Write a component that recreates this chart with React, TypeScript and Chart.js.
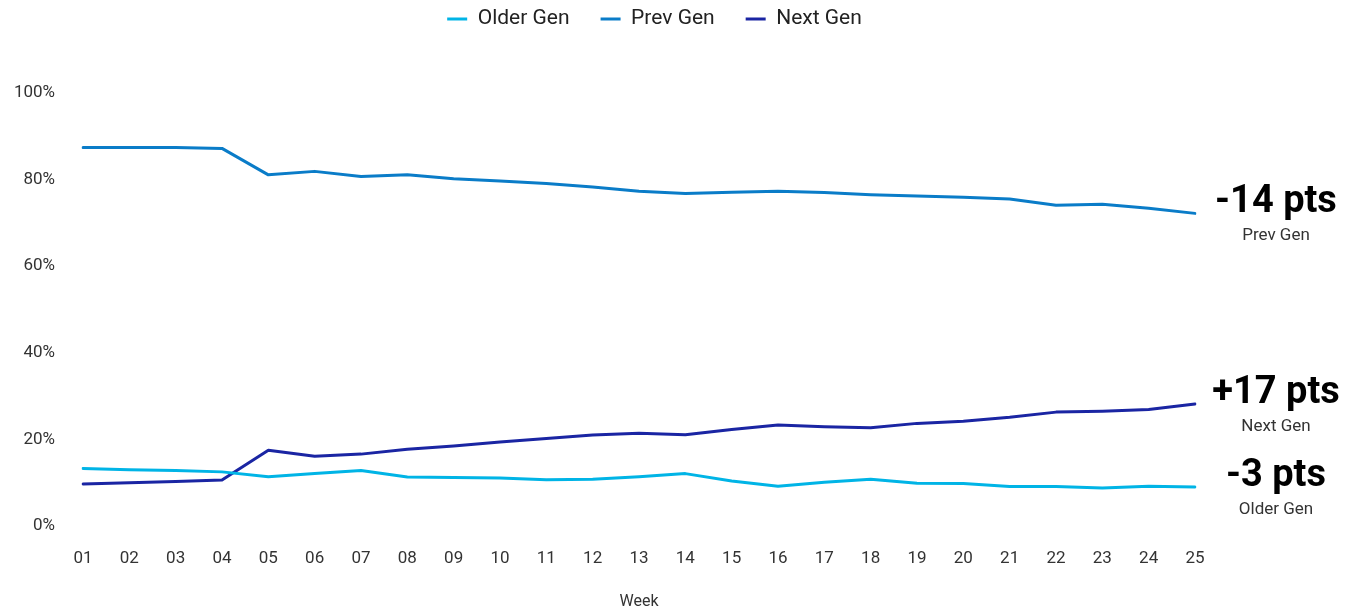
import React, { useEffect, useRef } from "react";
import { Chart, registerables } from "chart.js";

Chart.register(...registerables);

const weeks = ["01","02","03","04","05","06","07","08","09","10","11","12","13","14","15","16","17","18","19","20","21","22","23","24","25"];
const olderGen = [13.3,13.0,12.8,12.5,11.4,12.1,12.8,11.3,11.2,11.1,10.7,10.8,11.4,12.1,10.4,9.2,10.1,10.8,9.9,9.8,9.1,9.1,8.8,9.2,9.0];
const prevGen = [87.4,87.4,87.4,87.2,81.1,81.9,80.7,81.1,80.2,79.7,79.1,78.3,77.3,76.8,77.1,77.3,77.0,76.5,76.2,75.9,75.5,74.1,74.3,73.4,72.2];
const nextGen = [9.7,10.0,10.3,10.6,17.5,16.1,16.6,17.7,18.5,19.4,20.2,21.0,21.4,21.1,22.3,23.3,22.9,22.7,23.7,24.2,25.1,26.3,26.5,26.9,28.2];
const seriesNames = ["Older Gen", "Prev Gen", "Next Gen"];
const seriesColors = ["#00B4E6", "#0A7CC8", "#1A25A3"];
const changeLabels = ["-3 pts", "-14 pts", "+17 pts"];
const yTickValues = [0, 20, 40, 60, 80, 100];
const xAxisTitle = "Week";

const FONT = "Roboto";

const endLabelsPlugin = {
  id: "endLabels",
  afterDatasetsDraw(chart: any) {
    const { ctx, chartArea } = chart;
    chart.data.datasets.forEach((_ds: any, i: number) => {
      const meta = chart.getDatasetMeta(i);
      const pt = meta.data[meta.data.length - 1];
      if (!pt) return;
      const x = chartArea.right + 81;
      ctx.save();
      ctx.textAlign = "center";
      ctx.textBaseline = "alphabetic";
      ctx.fillStyle = "#000";
      ctx.font = `bold 38px ${FONT}`;
      ctx.fillText(changeLabels[i], x, pt.y - 1);
      ctx.fillStyle = "#333";
      ctx.font = `17px ${FONT}`;
      ctx.fillText(seriesNames[i], x, pt.y + 27);
      ctx.restore();
    });
  },
};

const legendHeightPlugin = {
  id: "legendHeight",
  afterInit(chart: any) {
    const legend = chart.legend;
    if (!legend) return;
    const origFit = legend.fit;
    legend.fit = function () {
      origFit.call(this);
      this.height = 115.5;
    };
  },
};

export default function App() {
  const canvasRef = useRef<HTMLCanvasElement | null>(null);

  useEffect(() => {
    document.documentElement.style.overflow = "hidden";
    const canvas = canvasRef.current;
    if (!canvas) return;
    const seriesValues = [olderGen, prevGen, nextGen];
    const chart = new Chart(canvas, {
      type: "line",
      data: {
        labels: weeks,
        datasets: seriesValues.map((vals, i) => ({
          label: seriesNames[i],
          data: vals,
          borderColor: seriesColors[i],
          backgroundColor: seriesColors[i],
          borderWidth: 3,
          borderCapStyle: "round",
          borderJoinStyle: "round",
          pointRadius: 0,
          pointHoverRadius: 0,
          tension: 0,
          fill: false,
        })),
      },
      options: {
        animation: false,
        responsive: true,
        maintainAspectRatio: false,
        layout: { padding: { top: -30.5, right: 52, left: 0, bottom: 0 } },
        plugins: {
          legend: {
            position: "top",
            align: "center",
            labels: {
              usePointStyle: true,
              pointStyle: "line",
              pointStyleWidth: 20,
              padding: 31,
              color: "#222",
              font: { family: FONT, size: 21 },
            },
          },
          tooltip: { enabled: false },
        },
        scales: {
          x: {
            grid: { display: false, drawTicks: false },
            border: { display: false },
            ticks: {
              color: "#333",
              font: { family: FONT, size: 17 },
              padding: 23,
              autoSkip: false,
              maxRotation: 0,
            },
            title: {
              display: true,
              text: xAxisTitle,
              color: "#333",
              font: { family: FONT, size: 16 },
              padding: { top: 4, bottom: -1 },
            },
            afterFit: (s: any) => {
              s.height = 85;
            },
          },
          y: {
            min: 0,
            max: 100,
            grid: { display: false, drawTicks: false },
            border: { display: false },
            ticks: {
              stepSize: 20,
              color: "#333",
              font: { family: FONT, size: 17 },
              padding: 28,
              callback: (v: any) => `${v}%`,
            },
            afterBuildTicks: (s: any) => {
              s.ticks = yTickValues.map((v) => ({ value: v }));
            },
            afterFit: (s: any) => {
              s.width = 75;
            },
          },
          yRight: {
            position: "right",
            display: true,
            grid: { display: false, drawTicks: false },
            border: { display: false },
            ticks: { display: false },
            afterFit: (s: any) => {
              s.width = 106;
            },
          },
        },
      },
      plugins: [legendHeightPlugin, endLabelsPlugin],
    } as any);
    return () => chart.destroy();
  }, []);

  return (
    <div style={{ position: "relative", width: 1345, height: 603 }}>
      <canvas ref={canvasRef} />
    </div>
  );
}
